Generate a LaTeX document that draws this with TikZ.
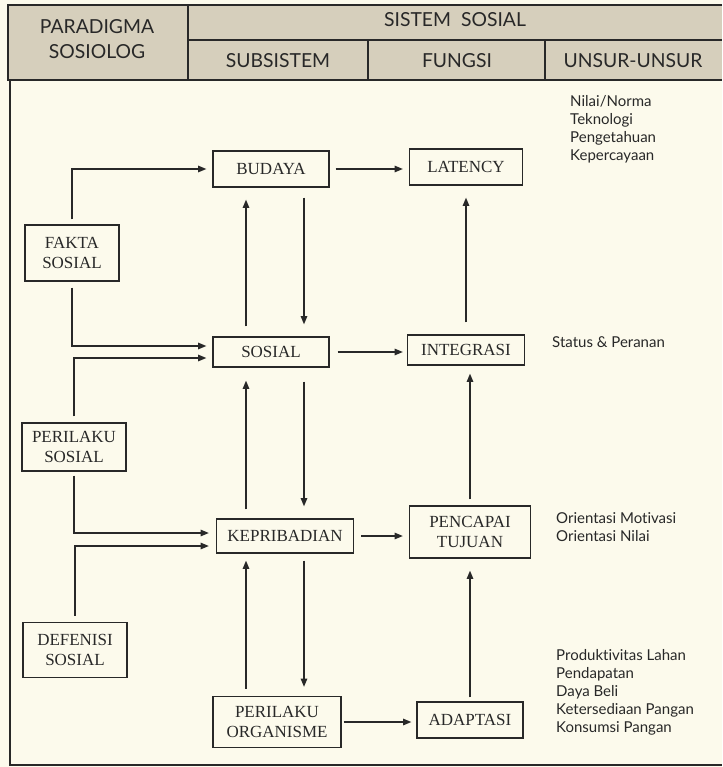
\documentclass[tikz,border=0pt]{standalone}
\usepackage{fontspec}
\setmainfont{Liberation Serif}
\newfontfamily\hdrfont[Ligatures=NoCommon]{Lato}
\usepackage{tikz}
\usetikzlibrary{arrows.meta}
\definecolor{hdrfill}{RGB}{214,207,188}
\definecolor{bodyfill}{RGB}{252,250,236}
\definecolor{linec}{RGB}{40,40,40}

\begin{document}
\begin{tikzpicture}[x=0.03cm,y=-0.03cm,
    box/.style={draw=linec,line width=1.1pt,fill=bodyfill,align=center,inner sep=0pt,
        text=linec,font=\fontsize{14.5}{16.5}\selectfont},
    arr/.style={draw=linec,line width=1.1pt,-{Triangle[length=7pt,width=5.5pt]}},
    frame/.style={draw=linec,line width=1.3pt},
    hdr/.style={text=linec,font=\hdrfont\fontsize{16.5}{21}\selectfont},
    unsur/.style={text=linec,align=left,anchor=west,inner sep=0pt,
        font=\hdrfont\fontsize{12.8}{15.3}\selectfont}]
    \useasboundingbox (0,0) rectangle (722,767);
    \fill[bodyfill] (0,0) rectangle (722,767);

    % kepala tabel
    \fill[hdrfill] (8,5) rectangle (722,80);
    \draw[frame] (722,5) -- (8,5) -- (8,80) -- (722,80);
    \draw[frame] (188,5) -- (188,80);
    \draw[frame] (188,40) -- (722,40);
    \draw[frame] (368,40) -- (368,80);
    \draw[frame] (545,40) -- (545,80);
    \draw[frame] (10,80) -- (10,765) -- (722,765);

    \node[hdr,align=center] (paradigma) at (97,39) {PARADIGMA\\SOSIOLOG};
    \node[hdr] (sistem) at (455,20) {SISTEM\ \ SOSIAL};
    \node[hdr] (subsistem) at (278,61) {SUBSISTEM};
    \node[hdr] (fungsi) at (457,61) {FUNGSI};
    \node[hdr] (unsur) at (633,61) {UNSUR-UNSUR};

    % subsistem dan fungsi
    \node[box,minimum width=3.48cm,minimum height=1.08cm] (budaya) at (271,169) {BUDAYA};
    \node[box,minimum width=3.39cm,minimum height=1.08cm] (latency) at (466,167) {LATENCY};
    \node[box,minimum width=3.48cm,minimum height=0.9cm] (sosial) at (271,352) {SOSIAL};
    \node[box,minimum width=3.51cm,minimum height=0.9cm] (integrasi) at (466,350) {INTEGRASI};
    \node[box,minimum width=4.11cm,minimum height=1.02cm] (kepribadian) at (285,536) {KEPRIBADIAN};
    \node[box,minimum width=3.63cm,minimum height=1.56cm] (pencapai) at (470,532) {PENCAPAI\\TUJUAN};
    \node[box,minimum width=3.84cm,minimum height=1.53cm] (organisme) at (277,722) {PERILAKU\\ORGANISME};
    \node[box,minimum width=3.18cm,minimum height=1.08cm] (adaptasi) at (470,720) {ADAPTASI};

    % paradigma
    \node[box,minimum width=2.82cm,minimum height=1.68cm] (fakta) at (72,253) {FAKTA\\SOSIAL};
    \node[box,minimum width=3.12cm,minimum height=1.44cm] (perilaku) at (74,447) {PERILAKU\\SOSIAL};
    \node[box,minimum width=3.12cm,minimum height=1.65cm] (defenisi) at (75,650) {DEFENISI\\SOSIAL};

    \coordinate (up) at (246,0);
    \coordinate (dn) at (304,0);

    \draw[arr,shorten <=0.3cm,shorten >=0.36cm] (up |- sosial.north) -- (up |- budaya.south);
    \draw[arr,shorten <=0.3cm,shorten >=0.36cm] (dn |- budaya.south) -- (dn |- sosial.north);
    \draw[arr,shorten <=0.27cm,shorten >=0.39cm] (up |- kepribadian.north) -- (up |- sosial.south);
    \draw[arr,shorten <=0.42cm,shorten >=0.36cm] (dn |- sosial.south) -- (dn |- kepribadian.north);
    \draw[arr,shorten <=0.21cm,shorten >=0.21cm] (up |- organisme.north) -- (up |- kepribadian.south);
    \draw[arr,shorten <=0.21cm,shorten >=0.27cm] (dn |- kepribadian.south) -- (dn |- organisme.north);

    \draw[arr,shorten <=0.36cm,shorten >=0.36cm] (integrasi.north) -- (integrasi.north |- latency.south);
    \draw[arr,shorten <=0.18cm,shorten >=0.24cm] (pencapai.north) -- (pencapai.north |- integrasi.south);
    \draw[arr,shorten <=0.12cm,shorten >=0.36cm] (adaptasi.north) -- (adaptasi.north |- pencapai.south);

    \draw[arr,shorten <=0.18cm,shorten >=0.18cm] (budaya.east) -- (budaya.east -| latency.west);
    \draw[arr,shorten <=0.24cm,shorten >=0.12cm] (sosial.east) -- (sosial.east -| integrasi.west);
    \draw[arr,shorten <=0.21cm,shorten >=0.18cm] (kepribadian.east) -- (kepribadian.east -| pencapai.west);
    \draw[arr,shorten <=0.06cm,shorten >=0.15cm] (organisme.east) -- (organisme.east -| adaptasi.west);

    \draw[arr,shorten <=0.15cm,shorten >=0.18cm] (fakta.north) |- (budaya.west);
    \draw[arr,shorten <=0.18cm,shorten >=0.18cm] (fakta.south) |- ([yshift=0.18cm]sosial.west);
    \draw[arr,shorten <=0.18cm,shorten >=0.18cm] (perilaku.north) |- ([yshift=-0.18cm]sosial.west);
    \draw[arr,shorten <=0.12cm,shorten >=0.21cm] (perilaku.south) |- ([yshift=0.09cm]kepribadian.west);
    \draw[arr,shorten <=0.18cm,shorten >=0.21cm] (defenisi.north) |- ([yshift=-0.3cm]kepribadian.west);

    % unsur-unsur
    \node[unsur] (nilai) at (570,129) {Nilai/Norma\\Teknologi\\Pengetahuan\\Kepercayaan};
    \node[unsur] (status) at (552,342) {Status \& Peranan};
    \node[unsur] (orientasi) at (556,527) {Orientasi Motivasi\\Orientasi Nilai};
    \node[unsur] (produk) at (556,692) {Produktivitas Lahan\\Pendapatan\\Daya Beli\\Ketersediaan Pangan\\Konsumsi Pangan};
\end{tikzpicture}
\end{document}
